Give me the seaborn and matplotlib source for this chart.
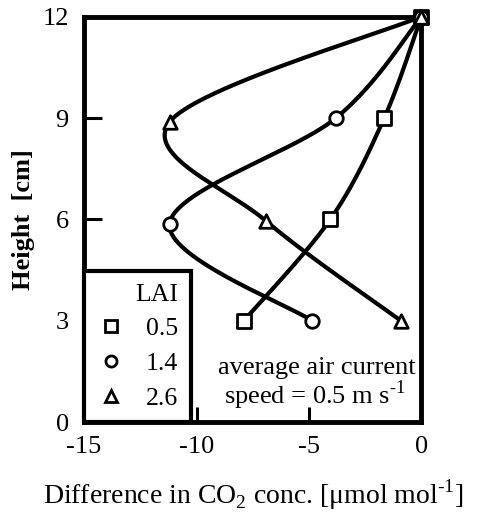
import numpy as np
import seaborn as sns
import matplotlib.pyplot as plt
from matplotlib.lines import Line2D

# altura [cm] e diferenca de CO2 para cada LAI
altura = [0, 3, 6, 9, 12]
x_ticks = [-15, -10, -5, 0]
lai_labels = ['0.5', '1.4', '2.6']
co2_lai05 = [-7.9, -4.05, -1.65, 0.0]
co2_lai14 = [-4.85, -11.2, -3.8, 0.0]
co2_lai26 = [-0.9, -6.9, -11.2, 0.0]
alt_lai05 = [3, 6, 9, 12]
alt_lai14 = [3, 5.87, 9, 12]
alt_lai26 = [3, 5.95, 8.88, 12]
marcadores = ['s', 'o', '^']

sns.set_style("ticks")
plt.rcParams['font.family'] = ['Liberation Serif', 'DejaVu Serif']
plt.rcParams['mathtext.fontset'] = 'custom'
plt.rcParams['mathtext.rm'] = 'Liberation Serif'
plt.rcParams['axes.unicode_minus'] = False
plt.rcParams['text.color'] = 'black'
plt.rcParams['axes.labelcolor'] = 'black'
plt.rcParams['xtick.color'] = 'black'
plt.rcParams['ytick.color'] = 'black'
plt.rcParams['axes.edgecolor'] = 'black'


def suaviza(xs, ys, n=60, esc=1.47):
    # curva suavizada tipo Excel (Catmull-Rom / Bezier), em escala de tela
    P = np.column_stack([xs, np.array(ys) / esc])
    P = np.vstack([P[0], P, P[-1]])
    t = np.linspace(0, 1, n)[:, None]
    partes = []
    for i in range(1, len(P) - 2):
        p0, p1, p2, p3 = P[i - 1], P[i], P[i + 1], P[i + 2]
        c1 = p1 + (p2 - p0) / 6
        c2 = p2 - (p3 - p1) / 6
        partes.append((1 - t) ** 3 * p1 + 3 * (1 - t) ** 2 * t * c1
                      + 3 * (1 - t) * t ** 2 * c2 + t ** 3 * p2)
    B = np.vstack(partes)
    return B[:, 0], B[:, 1] * esc


fig = plt.figure(figsize=(4.86, 5.17), dpi=100)
ax = fig.add_axes([0.173, 0.183, 0.694, 0.785])

series = [(co2_lai05, alt_lai05), (co2_lai14, alt_lai14), (co2_lai26, alt_lai26)]
for (xs, ys), m in zip(series, marcadores):
    cx, cy = suaviza(xs, ys)
    sns.lineplot(x=cx, y=cy, sort=False, color='black', linewidth=3.0, ax=ax)
    sns.scatterplot(x=xs, y=ys, marker=m, s=95, facecolor='white',
                    edgecolor='black', linewidth=2.0, zorder=5, ax=ax,
                    clip_on=False)

ax.set_xlim(-15, 0)
ax.set_ylim(0, 12)
ax.set_xticks(x_ticks)
ax.set_yticks(altura)
ax.tick_params(axis='y', direction='in', length=13, width=2.2, labelsize=19, pad=11)
ax.tick_params(axis='x', direction='in', length=11, width=2.2, labelsize=19, pad=10)
for s in ax.spines.values():
    s.set_linewidth(3.5)
    s.set_visible(True)

ax.set_xlabel('Difference in CO$_2$ conc. [μmol mol$^{\\text{-1}}$]', fontsize=20, labelpad=14)
ax.set_ylabel('Height  [cm]', fontsize=19, fontweight='bold')
ax.yaxis.set_label_coords(-0.145, 0.5)

ax.text(-0.25, 1.6, 'average air current', fontsize=19, ha='right', va='center')
ax.text(-0.7, 0.8, 'speed = 0.5 m s$^{\\text{-1}}$', fontsize=19, ha='right', va='center')

handles = [Line2D([], [], linestyle='none', marker=m, markersize=8,
                  markerfacecolor='white', markeredgecolor='black',
                  markeredgewidth=2.0) for m in marcadores]
leg = ax.legend(handles, lai_labels, title='LAI', loc='lower left',
                borderaxespad=0, fontsize=18.5, title_fontsize=18.5,
                frameon=True, fancybox=False, edgecolor='black', framealpha=1,
                handletextpad=0.8, labelspacing=0.45, alignment='right',
                borderpad=0.5, handlelength=1.1)
leg.get_frame().set_linewidth(3)
leg.set_zorder(10)

plt.savefig('out.png', dpi=100)
